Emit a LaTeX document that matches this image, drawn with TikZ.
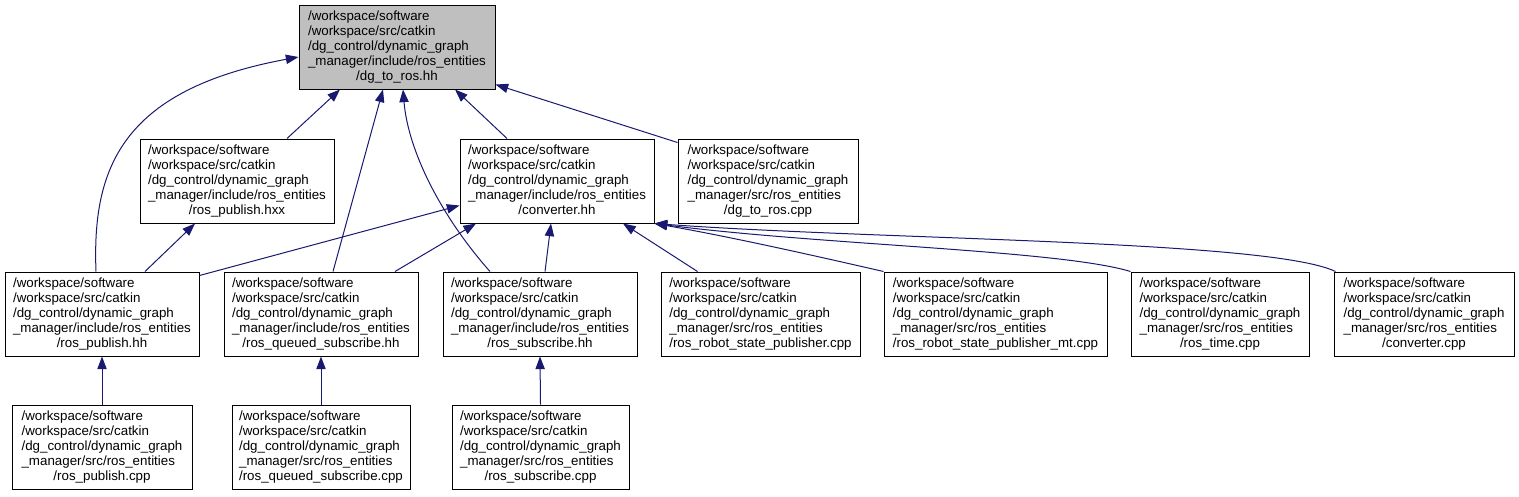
\documentclass[tikz,border=0pt]{standalone}
\usepackage{fontspec}
\setmainfont{Liberation Sans}
\usetikzlibrary{arrows.meta}
\definecolor{edgeblue}{RGB}{25,25,112}
\definecolor{topgray}{RGB}{191,191,191}
\newcommand{\lbl}[2]{\begin{tabular}{@{}l@{}}/workspace/software\\/workspace/src/catkin\\/dg\_control/dynamic\_graph\\\_manager/#1/ros\_entities\\\multicolumn{1}{@{}c@{}}{/#2}\end{tabular}}
\tikzset{
  box/.style={draw=black, line width=0.75pt, fill=white, inner sep=0pt, minimum height=84*0.75pt, font=\fontsize{10}{11.25}\selectfont},
  dep/.style={draw=edgeblue, line width=0.75pt, -{Triangle[length=9.5pt,width=7pt]}},
}
\begin{document}
\begin{tikzpicture}[x=0.75pt,y=-0.75pt]
\useasboundingbox (0,0) rectangle (1519,496);
% row 1
\node[box, fill=topgray, minimum width=196*0.75pt] (top) at (397,47) {\lbl{include}{dg\_to\_ros.hh}};
% row 2
\node[box, minimum width=194*0.75pt] (hxx) at (237,181) {\lbl{include}{ros\_publish.hxx}};
\node[box, minimum width=194*0.75pt] (conv) at (557,181) {\lbl{include}{converter.hh}};
\node[box, minimum width=180*0.75pt] (dgcpp) at (768,181) {\lbl{src}{dg\_to\_ros.cpp}};
% row 3
\node[box, minimum width=194*0.75pt] (pubhh) at (102,314) {\lbl{include}{ros\_publish.hh}};
\node[box, minimum width=194*0.75pt] (qhh) at (321,314) {\lbl{include}{ros\_queued\_subscribe.hh}};
\node[box, minimum width=194*0.75pt] (shh) at (540,314) {\lbl{include}{ros\_subscribe.hh}};
\node[box, minimum width=199*0.75pt] (rsp) at (760.5,314) {\lbl{src}{ros\_robot\_state\_publisher.cpp}};
\node[box, minimum width=223*0.75pt] (mt) at (995.5,314) {\lbl{src}{ros\_robot\_state\_publisher\_mt.cpp}};
\node[box, minimum width=178*0.75pt] (time) at (1220,314) {\lbl{src}{ros\_time.cpp}};
\node[box, minimum width=180*0.75pt] (ccpp) at (1424,314) {\lbl{src}{converter.cpp}};
% row 4
\node[box, minimum width=180*0.75pt] (pubcpp) at (102,447) {\lbl{src}{ros\_publish.cpp}};
\node[box, minimum width=178*0.75pt] (qcpp) at (321,447) {\lbl{src}{ros\_queued\_subscribe.cpp}};
\node[box, minimum width=177*0.75pt] (scpp) at (540.5,447) {\lbl{src}{ros\_subscribe.cpp}};
% edges to top
\draw[dep] ([shift={(50,0)}]hxx.north) -- ([shift={(-57,0)}]top.south);
\draw[dep] ([shift={(-50,0)}]conv.north) -- ([shift={(58,0)}]top.south);
\draw[dep] ([shift={(0,4)}]dgcpp.north west) -- ([shift={(0,-5)}]top.south east);
\draw[dep] ([shift={(-6,0)}]pubhh.north) .. controls (92,170) and (120,90) .. ([shift={(0,10)}]top.west);
\draw[dep] ([shift={(12,0)}]qhh.north) -- ([shift={(-14,0)}]top.south);
\draw[dep] ([shift={(-50,0)}]shh.north) .. controls (440,215) and (408,150) .. ([shift={(6,0)}]top.south);
% edges to hxx / converter.hh
\draw[dep] ([shift={(43,0)}]pubhh.north) -- ([shift={(-42,0)}]hxx.south);
\draw[dep] ([shift={(0,4)}]pubhh.north east) -- ([shift={(0,-18)}]conv.south west);
\draw[dep] ([shift={(74,0)}]qhh.north) -- ([shift={(-81,0)}]conv.south);
\draw[dep] ([shift={(5,0)}]shh.north) -- ([shift={(-6,0)}]conv.south);
\draw[dep] ([shift={(-63,0)}]rsp.north) -- ([shift={(66,0)}]conv.south);
\draw[dep] (mt.north west) .. controls (790,250) and (720,235) .. (conv.south east);
\draw[dep] (time.north west) .. controls (1060,250) and (820,245) .. (conv.south east);
\draw[dep] ([shift={(2,0)}]ccpp.north west) .. controls (1270,240) and (880,240) .. (conv.south east);
% bottom row
\draw[dep] (pubcpp.north) -- (pubhh.south);
\draw[dep] (qcpp.north) -- (qhh.south);
\draw[dep] (scpp.north) -- (shh.south);
\end{tikzpicture}
\end{document}
